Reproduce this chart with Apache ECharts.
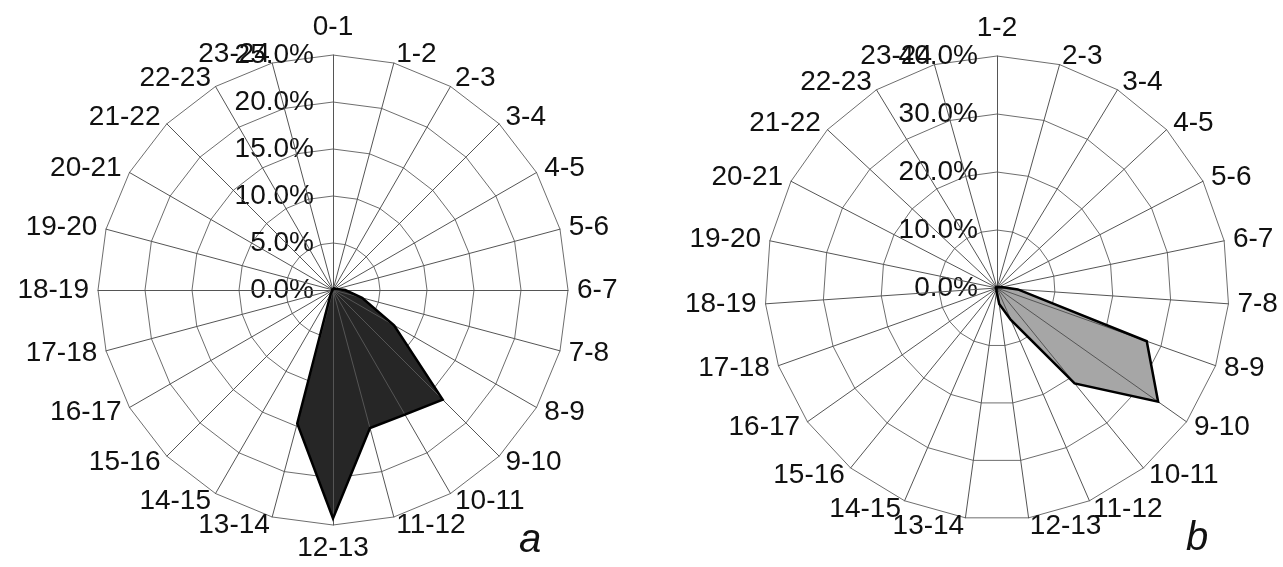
<!DOCTYPE html>
<html>
<head>
<meta charset="utf-8">
<script src="https://cdn.jsdelivr.net/npm/echarts@6/dist/echarts.min.js"></script>
<style>
html,body{margin:0;padding:0;background:#fff;}
#chart{width:1283px;height:567px;}
</style>
</head>
<body>
<div id="chart"></div>
<script>
// ---- data ----
const catsA = ['0-1','1-2','2-3','3-4','4-5','5-6','6-7','7-8','8-9','9-10','10-11','11-12',
               '12-13','13-14','14-15','15-16','16-17','17-18','18-19','19-20','20-21','21-22','22-23','23-24'];
const valsA = [0.2,0.2,0.2,0.2,0.2,0.4,1.3,3.2,7.5,16.5,15.3,15.2,
               24.3,14.7,0.5,0.1,0.1,0.1,0.1,0.1,0.1,0.1,0.1,0.1];
const maxA = 25;
const splitA = 5;

const catsB = ['1-2','2-3','3-4','4-5','5-6','6-7','7-8','8-9','9-10','10-11','11-12',
               '12-13','13-14','14-15','15-16','16-17','17-18','18-19','19-20','20-21','21-22','22-23','23-24'];
const valsB = [0.2,0.2,0.2,0.2,0.3,0.8,3.6,27.4,34.0,21.2,6.0,
               2.8,0.6,0.2,0.2,0.2,0.2,0.2,0.2,0.2,0.2,0.2,0.2];
const maxB = 40;
const splitB = 4;

// ECharts radar runs counter-clockwise; reorder so the chart reads clockwise
function cw(arr){ return [arr[0]].concat(arr.slice(1).reverse()); }

const FONT = 'Liberation Sans, Arial, sans-serif';
const fmt = v => Number(v).toFixed(1) + '%';

function indicators(cats, max){
  return cw(cats).map((c, i) => {
    const o = {name: c, max: max, min: 0};
    if (i === 0) o.axisLabel = {show: true};
    return o;
  });
}

function baseRadar(cats, max, split, center, radius){
  return {
    center: center, radius: radius, startAngle: 90, shape: 'polygon', splitNumber: split, z: 0,
    indicator: indicators(cats, max),
    axisName: {color: '#111', fontSize: 28, fontFamily: FONT},
    axisNameGap: 9,
    axisLine: {show: false},
    splitLine: {show: true, lineStyle: {color: '#6e6e6e', width: 1}},
    splitArea: {show: false},
    axisTick: {show: false},
    axisLabel: {show: false, formatter: fmt, color: '#111', fontSize: 28, fontFamily: FONT,
                margin: 19, showMinLabel: true, showMaxLabel: true}
  };
}
function spokeRadar(cats, max, split, center, radius){
  return {
    center: center, radius: radius, startAngle: 90, shape: 'polygon', splitNumber: split, z: 5,
    indicator: cw(cats).map(c => ({name: c, max: max, min: 0})),
    axisName: {show: false},
    axisLine: {show: true, lineStyle: {color: '#555', width: 1}},
    splitLine: {show: false},
    splitArea: {show: false},
    axisTick: {show: false},
    axisLabel: {show: false}
  };
}

const cA = [333, 290], rA = 235;
const cB = [997, 288], rB = 232;

function fillSeries(idx, vals, color){
  return {type: 'radar', radarIndex: idx, z: 2, symbol: 'none', silent: true,
          lineStyle: {width: 0, opacity: 0},
          areaStyle: {color: color, opacity: 1},
          data: [{value: cw(vals)}]};
}
function edgeSeries(idx, vals){
  return {type: 'radar', radarIndex: idx, z: 8, symbol: 'none', silent: true,
          lineStyle: {color: '#000', width: 2.5, join: 'miter'},
          data: [{value: cw(vals)}]};
}

const option = {
  animation: false,
  backgroundColor: '#ffffff',
  radar: [
    baseRadar(catsA, maxA, splitA, cA, rA),
    baseRadar(catsB, maxB, splitB, cB, rB),
    spokeRadar(catsA, maxA, splitA, cA, rA),
    spokeRadar(catsB, maxB, splitB, cB, rB)
  ],
  series: [
    fillSeries(0, valsA, '#262626'),
    fillSeries(1, valsB, '#a6a6a6'),
    edgeSeries(0, valsA),
    edgeSeries(1, valsB)
  ],
  graphic: [
    {type: 'text', left: 519, top: 521, z: 10,
     style: {text: 'a', fontSize: 40, fontStyle: 'italic', fontFamily: FONT, fill: '#111'}},
    {type: 'text', left: 1186, top: 519, z: 10,
     style: {text: 'b', fontSize: 40, fontStyle: 'italic', fontFamily: FONT, fill: '#111'}}
  ]
};

const chart = echarts.init(document.getElementById('chart'), null, {renderer: 'canvas'});
chart.setOption(option);
</script>
</body>
</html>
